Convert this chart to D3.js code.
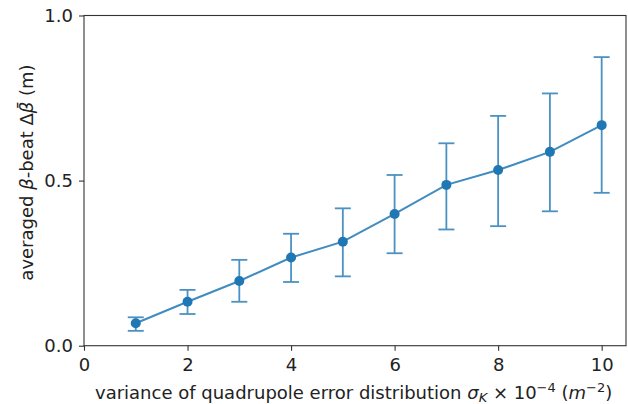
<!DOCTYPE html>
<html><head><meta charset="utf-8">
<script src="https://cdn.jsdelivr.net/npm/d3@7"></script>
<style>
body{margin:0;background:#fff;}
text{font-family:"DejaVu Sans",sans-serif;}
</style></head>
<body><svg id="c" width="628" height="404"></svg>
<script>
const xValues = [1,2,3,4,5,6,7,8,9,10];
const meanValues = [0.068,0.133,0.196,0.267,0.315,0.399,0.487,0.532,0.587,0.668];
const upperValues = [0.086,0.169,0.260,0.339,0.416,0.517,0.613,0.696,0.764,0.874];
const lowerValues = [0.045,0.096,0.133,0.193,0.210,0.280,0.352,0.362,0.407,0.463];
const xTicks = [0,2,4,6,8,10];
const yTicks = [0.0,0.5,1.0];

const svg = d3.select("#c");
const L=84, R=626, T=15.5, B=345.7;
const x = d3.scaleLinear().domain([0,10.47]).range([L,R]);
const y = d3.scaleLinear().domain([0,1]).range([B,T]);
const color="#1f77b4";
const fs=18;

const data = xValues.map((v,i)=>({x:v,m:meanValues[i],u:upperValues[i],l:lowerValues[i]}));

const eb = svg.append("g").attr("stroke",color).attr("stroke-width",1.8).attr("opacity",0.8);
data.forEach(d=>{
  eb.append("line").attr("x1",x(d.x)).attr("x2",x(d.x)).attr("y1",y(d.l)).attr("y2",y(d.u));
  eb.append("line").attr("x1",x(d.x)-8).attr("x2",x(d.x)+8).attr("y1",y(d.l)).attr("y2",y(d.l));
  eb.append("line").attr("x1",x(d.x)-8).attr("x2",x(d.x)+8).attr("y1",y(d.u)).attr("y2",y(d.u));
});
svg.append("path").datum(data)
  .attr("d",d3.line().x(d=>x(d.x)).y(d=>y(d.m)))
  .attr("fill","none").attr("stroke",color).attr("stroke-width",2).attr("opacity",0.85);
svg.append("g").selectAll("circle").data(data).join("circle")
  .attr("cx",d=>x(d.x)).attr("cy",d=>y(d.m)).attr("r",5).attr("fill",color);

svg.append("rect").attr("x",L).attr("y",T).attr("width",R-L).attr("height",B-T)
  .attr("fill","none").attr("stroke","#333").attr("stroke-width",1.1);

const xa = svg.append("g").attr("transform",`translate(0,${B})`)
  .call(d3.axisBottom(x).tickValues(xTicks).tickFormat(d3.format("d")).tickSize(5).tickPadding(7.5));
const ya = svg.append("g").attr("transform",`translate(${L},0)`)
  .call(d3.axisLeft(y).tickValues(yTicks).tickFormat(d3.format(".1f")).tickSize(5).tickPadding(6));
[xa,ya].forEach(a=>{
  a.select(".domain").remove();
  a.selectAll(".tick line").attr("stroke","#333").attr("stroke-width",1.1);
  a.selectAll(".tick text").attr("font-size",fs).attr("fill","#222").attr("font-family","DejaVu Sans");
});

const xl = svg.append("text").attr("x",95).attr("y",399).attr("text-anchor","start")
  .attr("font-size",fs).attr("fill","#222");
xl.append("tspan").text("variance of quadrupole error distribution ");
xl.append("tspan").attr("font-style","italic").text("σ");
xl.append("tspan").attr("font-style","italic").attr("font-size",13).attr("dy",2.5).text("K");
xl.append("tspan").attr("dy",-2.5).text(" × 10");
xl.append("tspan").attr("font-size",13).attr("dy",-7).text("−4");
xl.append("tspan").attr("dy",7).text(" (");
xl.append("tspan").attr("font-style","italic").text("m");
xl.append("tspan").attr("font-size",13).attr("dy",-7).text("−2");
xl.append("tspan").attr("dy",7).text(")");

const yl = svg.append("text").attr("transform",`translate(33,172.5) rotate(-90)`)
  .attr("text-anchor","middle").attr("font-size",fs).attr("fill","#222");
yl.append("tspan").text("averaged ");
yl.append("tspan").attr("font-style","italic").text("β");
yl.append("tspan").text("-beat Δ");
yl.append("tspan").attr("font-style","italic").text("β̄");
yl.append("tspan").text(" (m)");
</script></body></html>
